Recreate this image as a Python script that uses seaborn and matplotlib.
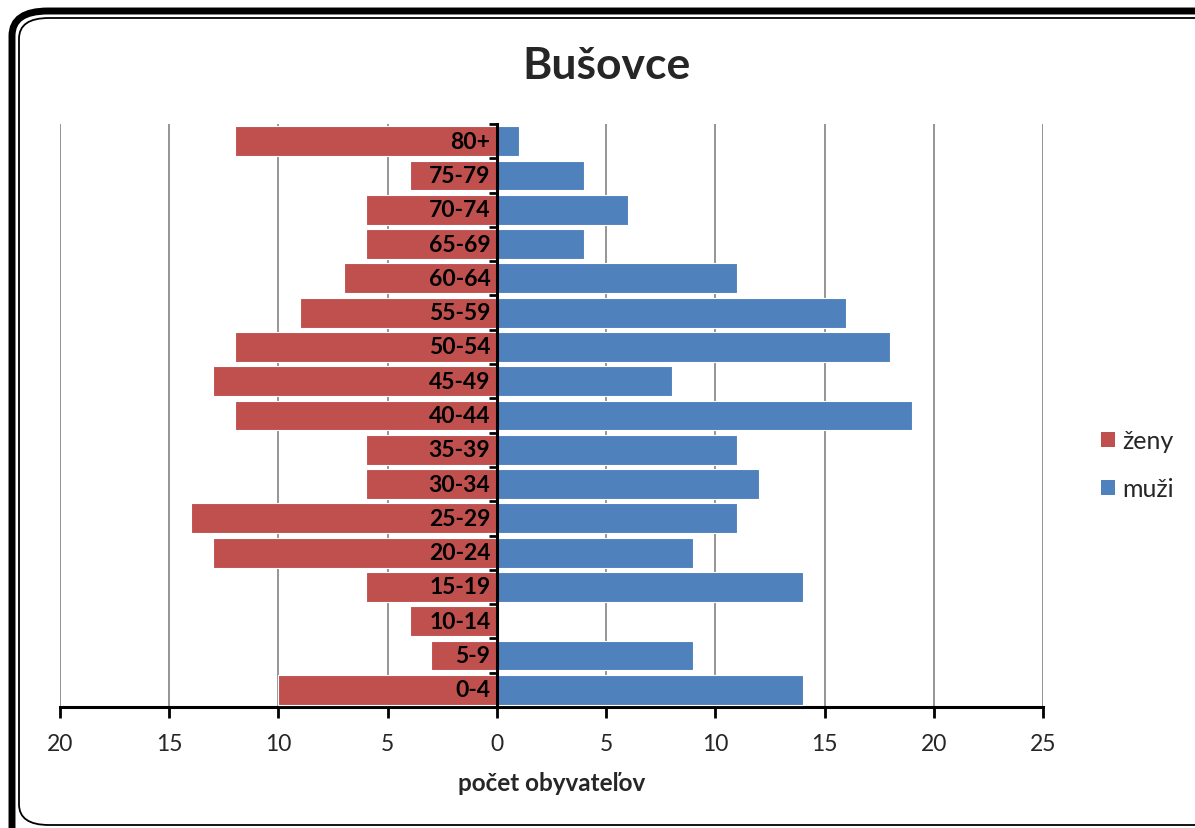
import numpy as np
import pandas as pd
import seaborn as sns
import matplotlib.pyplot as plt
from matplotlib.patches import FancyBboxPatch, Patch
from matplotlib.ticker import FixedLocator

age_groups = ["80+", "75-79", "70-74", "65-69", "60-64", "55-59", "50-54", "45-49",
              "40-44", "35-39", "30-34", "25-29", "20-24", "15-19", "10-14", "5-9", "0-4"]
zeny = [12, 4, 6, 6, 7, 9, 12, 13, 12, 6, 6, 14, 13, 6, 4, 3, 10]
muzi = [1, 4, 6, 4, 11, 16, 18, 8, 19, 11, 12, 11, 9, 14, 0, 9, 14]
x_ticks = [-20, -15, -10, -5, 0, 5, 10, 15, 20, 25]
x_ticklabels = ["20", "15", "10", "5", "0", "5", "10", "15", "20", "25"]
title = "Bušovce"
xlabel = "počet obyvateľov"
series_names = ["ženy", "muži"]
colors = {"ženy": "#C0504D", "muži": "#4F81BD"}

df = pd.DataFrame({
    "age": age_groups * 2,
    "value": [-v for v in zeny] + muzi,
    "sex": ["ženy"] * len(zeny) + ["muži"] * len(muzi),
})

sns.set_style("white")
plt.rcParams["font.family"] = ["Lato", "DejaVu Sans"]

fig = plt.figure(figsize=(11.95, 8.29), dpi=100)
ax = fig.add_axes([60 / 1195, 1 - 708 / 829, (1043 - 60) / 1195, (708 - 125) / 829])

sns.barplot(data=df, x="value", y="age", hue="sex", order=age_groups,
            hue_order=series_names, palette=colors, dodge=False, orient="h",
            width=0.87, edgecolor="white", linewidth=0.8, legend=False, ax=ax,
            saturation=1, zorder=3)

ax.set_xlim(-20, 25)
ax.set_ylim(len(age_groups) - 0.5, -0.5)
ax.set_xticks(x_ticks)
ax.set_xticklabels(x_ticklabels, fontsize=16.5)
for xv in x_ticks:
    ax.axvline(xv, color="#8c8c8c", linewidth=1.3, zorder=1)

# category labels inside bars
for i, lab in enumerate(age_groups):
    ax.text(-0.3, i, lab, ha="right", va="center", fontsize=16.5, fontweight="bold",
            color="black", zorder=5)

for s in ["top", "right"]:
    ax.spines[s].set_visible(False)
ax.spines["left"].set_position(("data", 0))
ax.spines["left"].set_linewidth(2.2)
ax.spines["left"].set_zorder(6)
ax.spines["bottom"].set_linewidth(2.2)
ax.spines["bottom"].set_color("black")
ax.spines["left"].set_color("black")

ax.set_yticks([])
ax.yaxis.set_minor_locator(FixedLocator(np.arange(-0.5, len(age_groups), 1.0)))
ax.tick_params(axis="y", which="minor", direction="out", length=6, width=2, color="black", left=True)
ax.tick_params(axis="x", which="major", direction="out", length=8, width=2, color="black",
               bottom=True, pad=11)
ax.set_ylabel("")
ax.set_xlabel(xlabel, fontsize=17.5, fontweight="bold", labelpad=12)

fig.text(607 / 1195, 1 - 66 / 829, title, ha="center", va="center", fontsize=32, fontweight="bold")

handles = [Patch(facecolor=colors[n], edgecolor="none") for n in series_names]
fig.legend(handles, series_names, loc="center left", bbox_to_anchor=(1101 / 1195, 1 - 466 / 829),
           frameon=False, fontsize=18, handlelength=0.55, handleheight=0.55, handletextpad=0.3,
           labelspacing=1.0, borderpad=0, borderaxespad=0)

# rounded double frame
outer = FancyBboxPatch((12 / 1195, -0.05), 1.05, 1 - 12 / 829 + 0.05,
                       boxstyle="round,pad=0,rounding_size=0.03", transform=fig.transFigure,
                       facecolor="none", edgecolor="black", linewidth=5, zorder=0)
inner = FancyBboxPatch((19 / 1195, 3 / 829), 1.05, 1 - 19 / 829 - 3 / 829,
                       boxstyle="round,pad=0,rounding_size=0.025", transform=fig.transFigure,
                       facecolor="none", edgecolor="black", linewidth=1.3, zorder=0)
fig.patches.extend([outer, inner])

fig.savefig("out.png", dpi=100)
